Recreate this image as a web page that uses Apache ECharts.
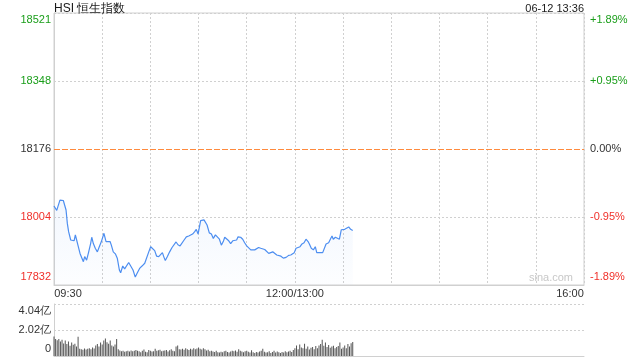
<!DOCTYPE html>
<html><head><meta charset="utf-8">
<script src="https://cdn.jsdelivr.net/npm/echarts@6/dist/echarts.min.js"></script>
<style>html,body{margin:0;padding:0;background:#fff}#c{width:640px;height:360px}</style>
</head><body><div id="c"></div>
<script>
const chartTitle = 'HSI 恒生指数';
const stamp = '06-12 13:36';
const watermark = 'sina.com';
const prevClose = 18176;
const priceMin = 17832, priceMax = 18521;
const priceTickLabels = ['17832', '18004', '18176', '18348', '18521'];
const pctTickLabels = ['-1.89%', '-0.95%', '0.00%', '+0.95%', '+1.89%'];
const timeTickLabels = { 0: '09:30', 150: '12:00/13:00', 330: '16:00' };
const volTickLabels = ['0', '2.02亿', '4.04亿'];
const volMax = 4.04;

// minutes of trading since 09:30 (lunch break removed)
const priceMinutes = [0,1.7,2.5,3.7,4.6,5.8,6.6,7.5,8.3,9.1,10.4,11.4,12.5,13.3,14.1,14.9,16.2,17.4,18.3,19.1,20.3,21.6,22.8,23.5,24.5,25.7,27.0,28.2,29.5,31.1,32.4,33.6,34.9,35.7,36.9,38.2,39.4,40.7,41.5,42.8,44.0,45.2,46.5,47.5,49.2,50.6,51.9,53.3,54.8,56.5,57.7,59.0,60.2,61.4,62.7,63.9,65.2,66.4,67.5,68.5,69.3,70.6,72.0,73.5,74.7,76.0,77.2,78.5,79.7,81.0,82.4,83.9,85.1,86.3,87.6,88.6,89.7,90.5,91.3,92.2,93.4,94.2,95.3,96.7,98.0,99.2,100.5,101.7,103.0,104.2,105.4,106.3,107.5,108.8,110.0,111.3,112.5,113.7,114.6,116.2,117.5,118.7,120.0,121.2,122.5,123.7,125.0,126.2,127.4,128.7,129.9,131.2,132.4,133.7,134.9,136.2,137.4,138.7,139.9,141.3,142.8,144.5,146.1,147.4,148.6,149.6,150.7,151.9,153.2,154.4,155.7,156.9,158.2,159.0,160.2,161.5,162.7,163.6,165.2,167.3,168.5,169.4,171.0,172.3,173.1,173.9,175.2,176.4,177.7,178.9,179.7,181.0,182.2,183.5,184.7,186.0];
const prices = [18032,18021,18024,18047,18051,18046,18044,18022,17988,17967,17946,17950,17944,17959,17946,17933,17912,17900,17891,17904,17895,17916,17937,17953,17937,17925,17916,17929,17942,17963,17942,17941,17942,17933,17916,17911,17900,17870,17863,17880,17873,17877,17889,17884,17870,17852,17863,17874,17880,17887,17891,17916,17929,17933,17919,17905,17904,17902,17914,17902,17894,17904,17916,17927,17931,17941,17934,17931,17927,17946,17954,17956,17959,17961,17967,17973,17961,17964,17995,17998,17997,17998,17984,17964,17961,17950,17959,17960,17948,17933,17942,17953,17948,17944,17937,17944,17944,17946,17954,17953,17948,17939,17931,17927,17921,17921,17921,17925,17927,17925,17925,17922,17924,17912,17916,17916,17914,17908,17911,17905,17900,17902,17907,17908,17912,17914,17925,17922,17929,17936,17939,17948,17942,17936,17925,17921,17929,17914,17914,17914,17912,17936,17939,17950,17956,17948,17953,17950,17948,17972,17967,17973,17978,17979,17973,17970];

// volume per minute, in 亿
const volumes = [1.52,1.33,1.22,1.33,1.12,1.26,0.98,1.20,0.93,1.13,0.80,1.04,0.88,0.96,0.73,1.49,0.56,0.53,0.48,0.59,0.51,0.56,0.61,0.53,0.67,0.59,
0.82,0.93,0.73,1.04,0.90,1.20,1.36,1.06,0.96,1.20,0.82,0.73,0.90,1.33,0.53,
0.43,0.37,0.40,0.33,0.36,0.40,0.35,0.43,0.37,0.40,0.47,0.40,0.36,0.29,0.40,0.51,0.33,0.29,0.47,0.40,0.35,0.37,0.56,0.40,0.44,0.48,0.37,0.40,0.43,0.47,0.35,0.45,0.53,0.40,0.37,
0.73,0.82,0.53,0.51,
0.56,0.48,0.60,0.53,0.47,0.56,0.51,0.61,0.53,0.59,0.67,0.56,0.51,0.60,0.53,0.43,0.48,0.37,0.40,0.35,0.32,0.40,0.29,0.27,0.33,0.29,0.37,0.40,0.32,0.27,0.35,0.40,0.37,0.43,0.33,0.53,0.40,0.35,0.29,0.37,0.40,0.33,0.27,0.45,0.29,0.24,0.32,0.27,0.35,0.40,0.56,0.33,0.27,0.29,0.37,0.24,0.32,0.40,0.27,0.35,0.29,0.24,0.32,0.27,0.37,0.29,0.35,0.40,0.32,0.47,
0.60,0.82,0.53,0.90,0.67,0.60,0.96,0.56,0.73,0.51,0.64,0.69,0.53,0.77,0.60,0.82,0.93,1.26,0.80,1.04,0.69,0.86,0.64,0.73,0.80,0.60,0.69,0.77,1.04,0.56,0.67,0.82,0.60,0.93,0.73,1.00,1.09];

const FONT = '"Liberation Sans", Arial, sans-serif';
const UP = '#1a9e1a', DOWN = '#f0302a', FLAT = '#333333', GRID = '#d0d0d0', PREV = '#ff8a3d';

const lineData = priceMinutes.map((m, i) => [m, prices[i]]);
const volData = volumes.map((v, i) => [i, v]);

function rs(color, pad) {
  const o = { color: color, fontSize: 11, fontFamily: FONT };
  if (pad) o.padding = pad;
  return o;
}
const richY = {
  g: rs(UP), gt: rs(UP, [14, 0, 0, 0]), k: rs(FLAT), r: rs(DOWN), rb: rs(DOWN, [0, 0, 16, 0]),
  v: rs(FLAT), vt: rs(FLAT, [14, 0, 0, 0]), vb: rs(FLAT, [0, 0, 14, 0])
};
const priceStyles = ['rb', 'r', 'k', 'g', 'gt'];
const volStyles = ['vb', 'v', 'vt'];
const interval = (priceMax - priceMin) / 4;

const chart = echarts.init(document.getElementById('c'), null, { renderer: 'canvas' });
chart.setOption({
  animation: false,
  backgroundColor: '#fff',
  textStyle: { fontFamily: FONT },
  title: [
    { text: chartTitle, left: 54, top: 3, padding: 0, textStyle: { fontSize: 12, fontWeight: 'normal', color: '#1a1a1a', fontFamily: FONT } },
    { text: stamp, right: 56, top: 3, padding: 0, textStyle: { fontSize: 11, fontWeight: 'normal', color: '#1a1a1a', fontFamily: FONT } }
  ],
  graphic: [
    { type: 'text', right: 67, top: 272, silent: true, style: { text: watermark, fill: '#c8c8c8', font: '11px ' + FONT } }
  ],
  grid: [
    { left: 54, right: 56, top: 13, height: 272, show: true, borderColor: GRID, borderWidth: 1, backgroundColor: 'transparent' },
    { left: 54, right: 56, top: 304, height: 52 }
  ],
  xAxis: [
    {
      type: 'value', gridIndex: 0, min: 0, max: 330, interval: 30,
      axisLine: { show: true, lineStyle: { color: GRID } }, axisTick: { show: false },
      splitLine: { show: true, lineStyle: { color: GRID, type: [2, 2] } },
      axisLabel: {
        margin: 3, color: FLAT, fontSize: 11, fontFamily: FONT,
        formatter: v => {
          const t = timeTickLabels[v];
          if (!t) return '';
          if (v === 0) return '{a|' + t + '}';
          if (v === 330) return '{b|' + t + '}';
          return '{m|' + t + '}';
        },
        rich: { a: rs(FLAT, [0, 0, 0, 28]), b: rs(FLAT, [0, 28, 0, 0]), m: rs(FLAT) }
      }
    },
    {
      type: 'value', gridIndex: 1, min: 0, max: 330, interval: 30,
      axisLine: { show: true, lineStyle: { color: GRID } }, axisTick: { show: false },
      splitLine: { show: false }, axisLabel: { show: false }
    }
  ],
  yAxis: [
    {
      type: 'value', gridIndex: 0, min: priceMin, max: priceMax, interval: interval,
      axisLine: { show: true, lineStyle: { color: GRID } }, axisTick: { show: false },
      splitLine: { show: true, lineStyle: { color: [GRID, GRID, PREV, GRID, GRID], type: [2, 2] } },
      axisLabel: { margin: 3, fontSize: 11, fontFamily: FONT, formatter: (v, i) => '{' + priceStyles[i] + '|' + priceTickLabels[i] + '}', rich: richY }
    },
    {
      type: 'value', gridIndex: 0, position: 'right', min: priceMin, max: priceMax, interval: interval,
      axisLine: { show: false }, axisTick: { show: false }, splitLine: { show: false },
      axisLabel: { margin: 6, fontSize: 11, fontFamily: FONT, formatter: (v, i) => '{' + priceStyles[i] + '|' + pctTickLabels[i] + '}', rich: richY }
    },
    {
      type: 'value', gridIndex: 1, min: 0, max: volMax, interval: volMax / 2,
      axisLine: { show: true, lineStyle: { color: GRID } }, axisTick: { show: false },
      splitLine: { show: true, lineStyle: { color: GRID, type: [2, 2] } },
      axisLabel: { margin: 3, fontSize: 11, fontFamily: FONT, formatter: (v, i) => '{' + volStyles[i] + '|' + volTickLabels[i] + '}', rich: richY }
    }
  ],
  series: [
    {
      type: 'line', xAxisIndex: 0, yAxisIndex: 0, data: lineData,
      showSymbol: false, symbol: 'none', smooth: false,
      lineStyle: { color: '#4d8ef0', width: 1.2 },
      areaStyle: {
        origin: 'start',
        color: new echarts.graphic.LinearGradient(0, 0, 0, 1, [
          { offset: 0, color: 'rgba(77,142,240,0.10)' },
          { offset: 1, color: 'rgba(77,142,240,0.02)' }
        ])
      },
      markLine: {
        silent: true, symbol: 'none', label: { show: false }, z: 10,
        lineStyle: { color: PREV, type: [4, 4], width: 1, opacity: 1 },
        data: [{ yAxis: prevClose }]
      }
    },
    {
      type: 'bar', xAxisIndex: 1, yAxisIndex: 2, data: volData,
      barWidth: 1, itemStyle: { color: '#555555' }
    }
  ]
});
</script>
</body></html>
